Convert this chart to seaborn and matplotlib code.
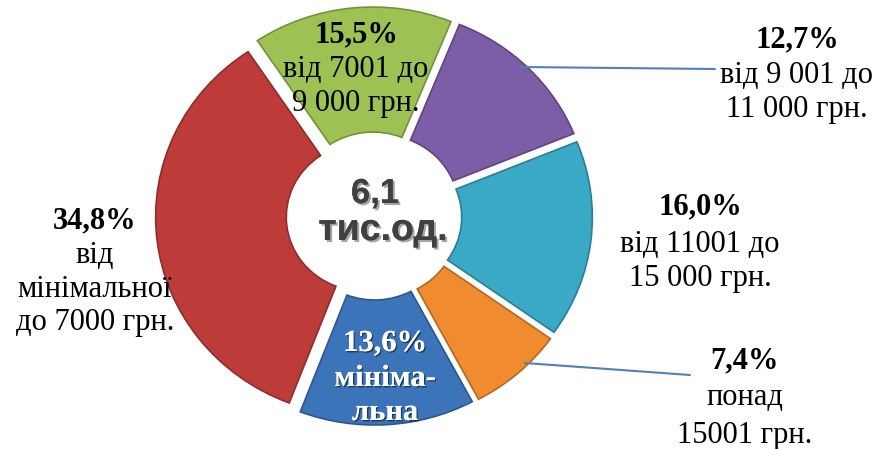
import matplotlib
matplotlib.use("Agg")
import matplotlib.pyplot as plt
import matplotlib.patheffects as pe
from matplotlib.colors import to_rgb
import seaborn as sns

# ---- data -------------------------------------------------------------
categories = ["мінімальна", "від мінімальної до 7000 грн.", "від 7001 до 9 000 грн.",
              "від 9 001 до 11 000 грн.", "від 11001 до 15 000 грн.", "понад 15001 грн."]
shares = [13.6, 34.8, 15.5, 12.7, 16.0, 7.4]
pct_text = ["13,6%", "34,8%", "15,5%", "12,7%", "16,0%", "7,4%"]
desc_lines = [["мініма-", "льна"],
              ["від", "мінімальної", "до 7000 грн."],
              ["від 7001 до", "9 000 грн."],
              ["від 9 001 до", "11 000 грн."],
              ["від 11001 до", "15 000 грн."],
              ["понад", "15001 грн."]]
total_lines = ["6,1", "тис.од."]
palette_hex = ["#3c74b9", "#bd3c39", "#9dc153", "#7c5ea6", "#39a9c5", "#f08b2f"]

# ---- layout (pixels, y from top) --------------------------------------
W, H = 886, 449
cx, cy = 374, 216
Ry = 199.0            # vertical outer radius in px
Rx = Ry * 1.045       # slight horizontal stretch as in the reference
ring_frac = 125 / 199
expl_frac = 10 / 199
label_pos = [(385, [351, 386, 420], "white"),
             (95, [228, 263, 297, 330], "black"),
             (356, [42, 77, 111], "black"),
             (797, [47, 83, 117], "black"),
             (700, [214, 252, 286], "black"),
             (745, [368, 405, 443], "black")]
leaders = [((520, 67), (715, 69)), ((525, 363), (690, 375))]

sns.set_theme(style="white")
plt.rcParams["font.family"] = ["Liberation Serif", "DejaVu Serif"]

fig = plt.figure(figsize=(W / 100, H / 100), dpi=100)
fig.patch.set_facecolor("white")

# pie axes (unit radius, stretched through limits)
pax = fig.add_axes([0, 0, 1, 1])
colors = sns.color_palette(palette_hex)


def darker(c, f=0.75):
    r, g, b = to_rgb(c)
    return (r * f, g * f, b * f)


wedges, _ = pax.pie(shares, colors=colors, radius=1.0, center=(0, 0),
                    startangle=-62, counterclock=False,
                    explode=[expl_frac] * len(shares),
                    wedgeprops=dict(width=ring_frac, linewidth=1.2))
for w, c in zip(wedges, colors):
    w.set_edgecolor(darker(c))
pax.set_aspect("auto")
pax.set_xlim(-cx / Rx, (W - cx) / Rx)
pax.set_ylim(-(H - cy) / Ry, cy / Ry)
pax.axis("off")

# text axes in pixel coordinates
ax = fig.add_axes([0, 0, 1, 1])
ax.set_xlim(0, W)
ax.set_ylim(0, H)
ax.axis("off")
ax.patch.set_alpha(0)

fs = 22
for (x, ys, col), pct, lines in zip(label_pos, pct_text, desc_lines):
    eff = [pe.withSimplePatchShadow(offset=(1, -1), shadow_rgbFace="black", alpha=0.5), pe.Normal()] if col == "white" else None
    ax.text(x, H - ys[0], pct, ha="center", va="baseline", fontsize=fs,
            fontweight="bold", color=col, path_effects=eff)
    for y, t in zip(ys[1:], lines):
        ax.text(x, H - y, t, ha="center", va="baseline", fontsize=fs,
                fontweight="bold" if col == "white" else "normal",
                color=col, path_effects=eff)

for (x0, y0), (x1, y1) in leaders:
    ax.plot([x0, x1], [H - y0, H - y1], color="#4f81bd", lw=1.5)

center_eff = [pe.withSimplePatchShadow(offset=(1.5, -1.5), shadow_rgbFace="#000000", alpha=0.35), pe.Normal()]
ax.text(375, H - 203, total_lines[0], ha="center", va="baseline", fontsize=25,
        fontweight="bold", color="#404040", family=["Liberation Sans", "DejaVu Sans"],
        path_effects=center_eff)
ax.text(383, H - 240, total_lines[1], ha="center", va="baseline", fontsize=27,
        fontweight="bold", color="#404040", family=["Liberation Sans", "DejaVu Sans"],
        path_effects=center_eff)

fig.savefig("out.png", dpi=100, facecolor="white")
